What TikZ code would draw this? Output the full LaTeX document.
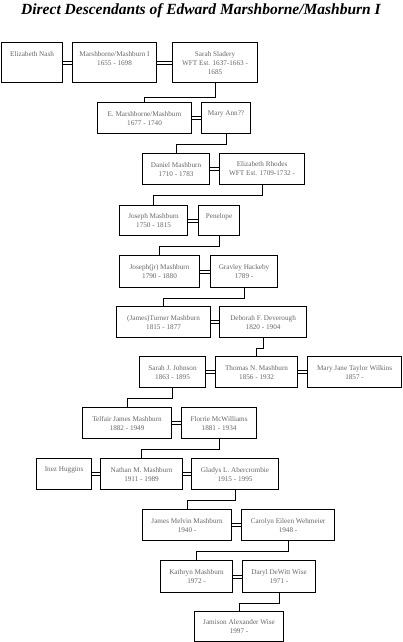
\documentclass[tikz,border=0pt]{standalone}
\usepackage{fontspec}
\setmainfont{Liberation Serif}

\begin{document}
\begin{tikzpicture}[x=1pt, y=-1pt,
    person/.style={draw, line width=1.1pt, anchor=north west, inner sep=1pt,
      align=center, text=black!60, font=\fontsize{7.2}{9}\selectfont},
    wed/.style={line width=0.9pt},
    kin/.style={line width=1pt}]
  \useasboundingbox (0,0) rectangle (402,642);
  % title
  \node[font=\fontsize{15.5}{18}\selectfont\bfseries\itshape] (title) at (201,11)
    {Direct Descendants of Edward Marshborne/Mashburn I};
  % generation 1
  \node[person, minimum width=61, minimum height=40] (nash) at (1,42) {Elizabeth Nash\\ \mbox{}\\ \mbox{}};
  \node[person, minimum width=84, minimum height=40] (edw) at (72,42) {Marshborne/Mashburn I\\1655 - 1698\\ \mbox{}};
  \node[person, minimum width=85, minimum height=40] (sarah) at (172,42) {Sarah Sladery\\WFT Est. 1637-1663 -\\1685};
  % generation 2
  \node[person, minimum width=94, minimum height=31] (emar) at (97,102) {E. Marshborne/Mashburn\\1677 - 1740};
  \node[person, minimum width=49, minimum height=31] (mary) at (201,102) {Mary Ann??\\ \mbox{}};
  % generation 3
  \node[person, minimum width=67, minimum height=31] (dan) at (142,153) {Daniel Mashburn\\1710 - 1783};
  \node[person, minimum width=85, minimum height=31] (eliz) at (219,153) {Elizabeth Rhodes\\WFT Est. 1709-1732 -};
  % generation 4
  \node[person, minimum width=68, minimum height=30] (jos) at (119,205) {Joseph Mashburn\\1750 - 1815};
  \node[person, minimum width=41, minimum height=30] (pen) at (198,205) {Penelope\\ \mbox{}};
  % generation 5
  \node[person, minimum width=80, minimum height=32] (josjr) at (119,255) {Joseph(jr) Mashburn\\1790 - 1880};
  \node[person, minimum width=67, minimum height=32] (grav) at (210,255) {Gravley Hackeby\\1789 -};
  % generation 6
  \node[person, minimum width=94, minimum height=31] (turn) at (116,306) {(James)Turner Mashburn\\1815 - 1877};
  \node[person, minimum width=87, minimum height=31] (deb) at (219,306) {Deborah F. Deverough\\1820 - 1904};
  % generation 7
  \node[person, minimum width=66, minimum height=31] (sjo) at (139,356) {Sarah J. Johnson\\1863 - 1895};
  \node[person, minimum width=82, minimum height=31] (thom) at (215,356) {Thomas N. Mashburn\\1856 - 1932};
  \node[person, minimum width=94, minimum height=31] (mjt) at (307,356) {Mary Jane Taylor Wilkins\\1857 -};
  % generation 8
  \node[person, minimum width=89, minimum height=31] (tel) at (82,407) {Telfair James Mashburn\\1882 - 1949};
  \node[person, minimum width=75, minimum height=31] (flo) at (181,407) {Florrie McWilliams\\1881 - 1934};
  % generation 9
  \node[person, minimum width=55, minimum height=31] (inez) at (36,458) {Inez Huggins\\ \mbox{}};
  \node[person, minimum width=82, minimum height=31] (nat) at (100,458) {Nathan M. Mashburn\\1911 - 1989};
  \node[person, minimum width=87, minimum height=31] (gla) at (191,458) {Gladys L. Abercrombie\\1915 - 1995};
  % generation 10
  \node[person, minimum width=89, minimum height=31] (jam) at (142,509) {James Melvin Mashburn\\1940 -};
  \node[person, minimum width=93, minimum height=31] (car) at (241,509) {Carolyn Eileen Wehmeier\\1948 -};
  % generation 11
  \node[person, minimum width=72, minimum height=32] (kat) at (160,560) {Kathryn Mashburn\\1972 -};
  \node[person, minimum width=73, minimum height=32] (dar) at (242,560) {Daryl DeWitt Wise\\1971 -};
  % generation 12
  \node[person, minimum width=89, minimum height=30] (jw) at (194,611) {Jamison Alexander Wise\\1997 -};
  % marriages
  \foreach \a/\b in {nash/edw, edw/sarah, emar/mary, dan/eliz, jos/pen, josjr/grav,
                     turn/deb, sjo/thom, thom/mjt, tel/flo, inez/nat, nat/gla,
                     jam/car, kat/dar} {
    \draw[wed] ([yshift=1.5pt]\a.east) -- ([yshift=1.5pt]\b.west);
    \draw[wed] ([yshift=-1.5pt]\a.east) -- ([yshift=-1.5pt]\b.west);
  }
  % descent lines
  \draw[kin] (sarah.south) -- ++(0,14) -| (emar.north);
  \foreach \a/\b in {mary/dan, eliz/jos, pen/josjr, grav/turn, deb/thom, sjo/tel,
                     flo/nat, gla/jam, car/kat, dar/jw}
    \draw[kin] (\a.south) -- ++(0,10) -| (\b.north);
\end{tikzpicture}
\end{document}
